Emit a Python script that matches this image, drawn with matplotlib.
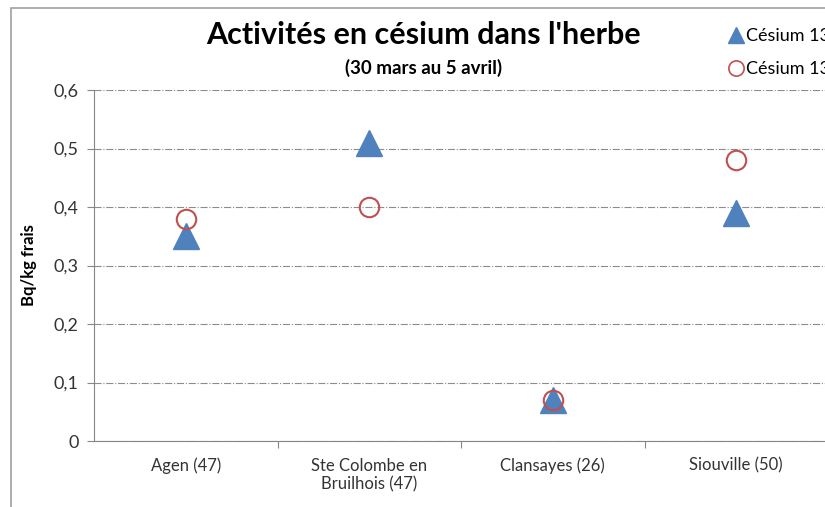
import matplotlib.pyplot as plt
from matplotlib.patches import Rectangle
from matplotlib.lines import Line2D
from matplotlib.ticker import FuncFormatter

plt.rcParams['font.family'] = ['Lato', 'DejaVu Sans']

sites = ['Agen (47)', 'Ste Colombe en\nBruilhois (47)', 'Clansayes (26)', 'Siouville (50)']
cs137 = [0.35, 0.51, 0.07, 0.39]
cs134 = [0.38, 0.40, 0.07, 0.48]
yticks = [0, 0.1, 0.2, 0.3, 0.4, 0.5, 0.6]

W, H = 825, 507
fig = plt.figure(figsize=(W / 100, H / 100), dpi=100)
ax = fig.add_axes([94 / W, 1 - 441 / H, (828 - 94) / W, (441 - 90) / H])

# cadre extérieur (coupé à droite et en bas)
fig.add_artist(Rectangle((11 / W, -0.1), 2, 1.1 - 8 / H, transform=fig.transFigure,
                         fill=False, edgecolor='#a0a0a0', linewidth=1.2))

x = list(range(len(sites)))
ax.plot(x, cs137, linestyle='none', marker='^', markersize=19, color='#4f81bd',
        markeredgecolor='#4f81bd', zorder=3)
ax.plot(x, cs134, linestyle='none', marker='o', markersize=14, markerfacecolor='none',
        markeredgecolor='#c0504d', markeredgewidth=1.5, zorder=4)

ax.set_xlim(-0.5, 3.5)
ax.set_ylim(0, 0.6)
ax.set_yticks(yticks)
ax.yaxis.set_major_formatter(FuncFormatter(lambda v, p: ('%g' % round(v, 1)).replace('.', ',')))
ax.set_xticks([0.5, 1.5, 2.5])
ax.set_xticklabels([])
ax.set_xticks(x, minor=True)
ax.set_xticklabels(sites, minor=True, fontsize=12, color='#333333')
ax.tick_params(axis='x', which='minor', length=0, pad=12)
ax.tick_params(axis='x', which='major', length=5, color='#868686')
ax.tick_params(axis='y', length=5, color='#868686', labelsize=13, labelcolor='#333333', pad=6)

ax.grid(axis='y', linestyle='-.', color='#8c8c8c', linewidth=0.8)
ax.set_axisbelow(True)
for s in ['top', 'right']:
    ax.spines[s].set_visible(False)
for s in ['left', 'bottom']:
    ax.spines[s].set_color('#868686')

ax.set_ylabel('Bq/kg frais', fontsize=12, fontweight='bold', labelpad=12)

fig.text(423 / W, 1 - 35 / H, "Activités en césium dans l'herbe", fontsize=22,
         fontweight='bold', ha='center', va='center')
fig.text(424 / W, 1 - 68 / H, '(30 mars au 5 avril)', fontsize=13.5,
         fontweight='bold', ha='center', va='center')

handles = [Line2D([], [], linestyle='none', marker='^', markersize=12, color='#4f81bd'),
           Line2D([], [], linestyle='none', marker='o', markersize=11, markerfacecolor='none',
                  markeredgecolor='#c0504d', markeredgewidth=1.2)]
fig.legend(handles, ['Césium 137', 'Césium 134'], loc='upper left',
           bbox_to_anchor=(713 / W, 1 - 12 / H), frameon=False, fontsize=13,
           handlelength=0.8, handletextpad=0.15, labelspacing=0.95)

fig.savefig('out.png', dpi=100)
